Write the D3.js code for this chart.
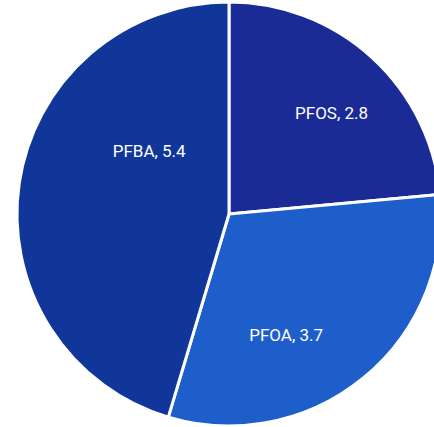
<!DOCTYPE html>
<html>
<head>
<meta charset="utf-8">
<script src="https://cdn.jsdelivr.net/npm/d3@7"></script>
<style>
  html, body { margin: 0; padding: 0; background: #ffffff; }
  svg { display: block; }
</style>
</head>
<body>
<svg id="chart" width="434" height="427"></svg>
<script>
// Compound names and measured amounts
const compounds = ["PFOS", "PFOA", "PFBA"];
const amounts = [2.8, 3.7, 5.4];
const sliceColors = ["#1b2b95", "#1d5ecb", "#10369a"];

// Label placement per slice: [radius fraction, angle shift in degrees]
const labelPlacement = [[0.68, 3], [0.63, 14], [0.48, 30]];

const width = 434, height = 427;
const cx = 229, cy = 214, radius = 212;

const svg = d3.select("#chart");
const g = svg.append("g").attr("transform", `translate(${cx},${cy})`);

const data = compounds.map((name, i) => ({ name, value: amounts[i], color: sliceColors[i], place: labelPlacement[i] }));

const pie = d3.pie().value(d => d.value).sort(null);
const arc = d3.arc().innerRadius(0).outerRadius(radius);

const arcs = pie(data);

g.selectAll("path.slice")
  .data(arcs)
  .join("path")
  .attr("class", "slice")
  .attr("d", arc)
  .attr("fill", d => d.data.color)
  .attr("stroke", "#ffffff")
  .attr("stroke-width", 3)
  .attr("stroke-linejoin", "round");

g.selectAll("text.label")
  .data(arcs)
  .join("text")
  .attr("class", "label")
  .attr("transform", d => {
    const mid = (d.startAngle + d.endAngle) / 2 + d.data.place[1] * Math.PI / 180;
    const r = radius * d.data.place[0];
    return `translate(${r * Math.sin(mid)},${-r * Math.cos(mid)})`;
  })
  .attr("text-anchor", "middle")
  .attr("dominant-baseline", "central")
  .attr("fill", "#ffffff")
  .attr("font-family", "Roboto, 'Noto Sans', sans-serif")
  .attr("font-size", 17)
  .text(d => `${d.data.name}, ${d.data.value}`);
</script>
</body>
</html>
